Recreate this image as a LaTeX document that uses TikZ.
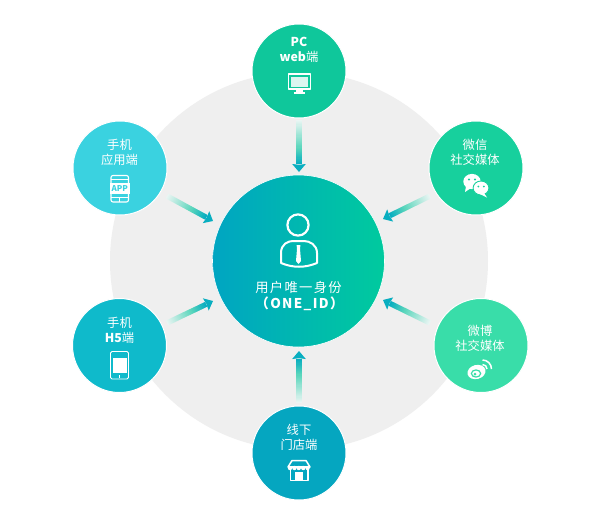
\documentclass[tikz,border=0pt]{standalone}
\usepackage{fontspec}
\usetikzlibrary{calc}
\newfontfamily\cjk{Noto Sans CJK SC}
\newfontfamily\cjkspaced[LetterSpace=10]{Noto Sans CJK SC}
\definecolor{ringgray}{HTML}{EFEFEF}
\definecolor{cTop}{HTML}{0FC79B}
\definecolor{cApp}{HTML}{3AD2E0}
\definecolor{cChat}{HTML}{17D09D}
\definecolor{cBo}{HTML}{39DDA9}
\definecolor{cShop}{HTML}{05A6C0}
\definecolor{cFive}{HTML}{0FBACB}
\definecolor{cL}{HTML}{00A5C2}
\definecolor{cR}{HTML}{00CA9E}
\definecolor{aTip}{HTML}{08AEC0}
\definecolor{aMid}{HTML}{5AD6BC}
\definecolor{aPale}{HTML}{EAF5F3}
\tikzset{
  hub/.style={circle,minimum size=94pt,inner sep=0pt,draw=white,line width=1pt},
  lbl/.style={text=white,font=\cjk\fontsize{12.3}{14}\selectfont,inner sep=0pt},
  icon/.style={draw=white,line width=1.4pt,line join=round}
}
\newcommand{\gradarrow}[2]{%
  \coordinate (hb) at ($(#2)!8pt!(#1)$);
  \foreach \i in {0,...,39}{%
    \pgfmathsetmacro{\pa}{min(100,\i*4)}%
    \pgfmathsetmacro{\pb}{max(0,(\i-25)*100/14)}%
    \pgfmathsetmacro{\ta}{\i/40}%
    \pgfmathsetmacro{\tb}{(\i+1.4)/40}%
    \ifnum\i<25
      \colorlet{segc}{aMid!\pa!aPale}%
    \else
      \colorlet{segc}{aTip!\pb!aMid}%
    \fi
    \draw[segc,line width=5.2pt] ($(#1)!\ta!(hb)$) -- ($(#1)!\tb!(hb)$);
  }%
  \fill[aTip] (#2) -- ($(hb)!6.8pt!90:(#2)$) -- ($(#2)!7.2pt!(#1)$) -- ($(hb)!6.8pt!-90:(#2)$) -- cycle;
}
\begin{document}
\begin{tikzpicture}[x=1pt,y=-1pt]
\useasboundingbox (0,0) rectangle (600,523);
\fill[white] (0,0) rectangle (600,523);
\node[circle,fill=ringgray,minimum size=378pt,inner sep=0pt] (ring) at (299,261) {};

% arrow ends
\coordinate (sT) at (299,120); \coordinate (eT) at (299,172);
\coordinate (sA) at (167,196); \coordinate (eA) at (213,221);
\coordinate (sC) at (430,196); \coordinate (eC) at (383,219);
\coordinate (sB) at (430,323); \coordinate (eB) at (383,300);
\coordinate (sS) at (299,403); \coordinate (eS) at (299,351);
\coordinate (sF) at (167,323); \coordinate (eF) at (213,301);
\gradarrow{sT}{eT}
\gradarrow{sA}{eA}
\gradarrow{sC}{eC}
\gradarrow{sB}{eB}
\gradarrow{sS}{eS}
\gradarrow{sF}{eF}

% circles
\node[hub,fill=cTop] (pc) at (299,71) {};
\node[hub,fill=cApp] (app) at (120,168) {};
\node[hub,fill=cChat] (chat) at (476,168) {};
\node[hub,fill=cBo] (bo) at (481,345.5) {};
\node[hub,fill=cShop] (shop) at (299,453) {};
\node[hub,fill=cFive] (five) at (119.5,345.5) {};
\node[circle,minimum size=172pt,inner sep=0pt,left color=cL,right color=cR,draw=white,line width=.6pt] (core) at (298.5,261) {};

% labels
\node[lbl] (l1a) at (299,42) {\bfseries PC};
\node[lbl] (l1b) at (299,57) {{\bfseries web}端};
\node[lbl] (l2a) at (119.5,145) {手机};
\node[lbl] (l2b) at (119.5,160) {应用端};
\node[lbl] (l3a) at (475,145) {微信};
\node[lbl] (l3b) at (475,160) {社交媒体};
\node[lbl] (l4a) at (480,331) {微博};
\node[lbl] (l4b) at (480,346) {社交媒体};
\node[lbl] (l5a) at (299,430) {线下};
\node[lbl] (l5b) at (299,445) {门店端};
\node[lbl] (l6a) at (119.5,323) {手机};
\node[lbl] (l6b) at (119.5,338) {{\bfseries H5}端};
\node[text=white,inner sep=0pt,font=\cjkspaced\fontsize{13.3}{16}\selectfont] (c1) at (298.5,287) {用户唯一身份};
\node[text=white,inner sep=0pt,font=\cjkspaced\bfseries\fontsize{13.5}{16}\selectfont] (c2) at (299.5,304) {（ONE\_ID）};

% person
\draw[white,line width=2.2pt] (298,225) circle (10.6);
\draw[white,line width=2pt,line join=round] (281,263) -- (281,253) .. controls (281,244) and (288,241) .. (293,241) -- (304,241) .. controls (310,241) and (317,245) .. (317,253) -- (317,263) .. controls (305,268) and (293,268) .. cycle;
\fill[white] (296.6,245) -- (300.4,245) -- (300,249) -- (301,261) -- (298.5,264) -- (296,261) -- (297,249) -- cycle;

% monitor
\draw[icon] (288.5,74) rectangle (310.5,89);
\fill[white,opacity=.85] (291,76.5) rectangle (308,86.5);
\fill[white] (296,89) rectangle (303,91.5);
\fill[white] (293.5,91.5) rectangle (305,93.5);

% app icon
\draw[white,line width=1.1pt,rounded corners=2pt] (111,175.5) rectangle (128.5,202);
\fill[white] (110,183) rectangle (129.5,193.5);
\draw[white,line width=.9pt] (111,179) -- (128.5,179);
\draw[white,line width=.9pt] (111,197.5) -- (128.5,197.5);
\draw[white,line width=.9pt] (119.7,197.5) -- (119.7,202);
\node[text=cApp,inner sep=0pt,font=\cjk\bfseries\fontsize{8}{8}\selectfont] (apptxt) at (119.7,188.2) {APP};

% phone icon
\draw[white,line width=.9pt,rounded corners=1.5pt] (110.5,351.5) rectangle (128.5,379);
\fill[white] (113,358) rectangle (126.5,373);
\draw[white,line width=.9pt] (119.5,375) -- (119.5,378);

% wechat
\fill[white] (472,181.5) ellipse (8.7 and 7.6);
\fill[white] (466,186) -- (465,192) -- (471,188) -- cycle;
\fill[cChat] (469,179.5) circle (1.1);
\fill[cChat] (475,179.5) circle (1.1);
\fill[white,draw=cChat,line width=.9pt] (481,188) ellipse (7.9 and 7);
\fill[white] (484,193) -- (487,197.5) -- (480,194) -- cycle;
\fill[cChat] (478.3,186.5) circle (1);
\fill[cChat] (483.8,186.5) circle (1);

% weibo
\fill[white,rotate around={15:(476.5,372)}] (476.5,372) ellipse (9.2 and 7);
\draw[cBo,fill=white,line width=1.2pt] (476,373.5) ellipse (4.6 and 3.6);
\fill[cBo] (475,374) circle (1.5);
\draw[white,line width=1.5pt] (487,369) arc (0:-90:4.5);
\draw[white,line width=1.5pt] (491.5,369) arc (0:-90:9);

% store
\draw[white,line width=1.5pt,line join=round] (292,460.5) -- (306,460.5) -- (310,467) -- (288,467) -- cycle;
\fill[white] (288,466) rectangle (310,468);
\foreach \k in {290,294.4,...,309}{\fill[white] (\k,468) circle (2.2);}
\draw[white,line width=1.5pt,line join=round] (290.5,469) -- (290.5,480.5) -- (308,480.5) -- (308,469);
\fill[white] (295,472) rectangle (303,481);
\end{tikzpicture}
\end{document}
